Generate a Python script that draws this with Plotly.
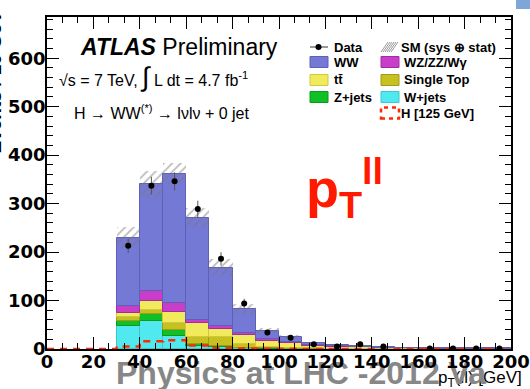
import math
import plotly.graph_objects as go

# ---- histogram content (10 GeV bins) ----
bin_lo = [30, 40, 50, 60, 70, 80, 90, 100, 110, 120, 130, 140, 150, 160, 170, 180, 190]

wjets = [48, 58, 27.5, 7, 4, 2, 1, 0.5, 0.3, 0.2, 0.1, 0.1, 0.1, 0.05, 0.05, 0.05, 0.05]
zjets = [10, 13.4, 11.5, 3, 2, 1, 0.5, 0.5, 0.3, 0.2, 0.2, 0.1, 0.1, 0.05, 0.05, 0.05, 0.05]
single_top = [8.5, 8.6, 14, 14.5, 18, 7, 2.5, 1.5, 0.9, 0.6, 0.5, 0.3, 0.2, 0.1, 0.1, 0.1, 0.1]
ttbar = [7, 19, 22.6, 28.5, 16.5, 19, 13, 9, 5.5, 4, 2.7, 1.5, 1.1, 0.8, 0.6, 0.5, 0.4]
wz_zz_wg = [15.5, 20.6, 18.4, 7, 6.9, 4.6, 4, 2.5, 1, 0.5, 0.5, 0.3, 0.3, 0.2, 0.2, 0.15, 0.1]
ww = [140.5, 220, 268, 211, 120.6, 48.4, 17, 10, 4.5, 2.1, 2.5, 1.2, 1, 0.8, 0.6, 0.5, 0.4]

sm_err = [22, 28, 22, 20, 18, 10, 6, 4, 2, 1.5, 1, 0.8, 0.5, 0.4, 0.3, 0.3, 0.2]

data = [213, 337, 346, 289, 186, 94, 34, 23, 10, 5, 10, 5, None, 1, 1, 1, 1]

# Higgs signal over the full 0-200 range
higgs_edges = [0, 10, 20, 30, 40, 50, 60, 70, 80, 90, 100, 110, 120, 130, 140, 150, 160, 170, 180, 190, 200]
higgs = [0, 0, 0, 5, 16, 18, 7, 2, 1, 0.5, 0.3, 0.2, 0.1, 0.1, 0.1, 0, 0, 0, 0, 0]

# stack order: bottom to top
stack_names = ["W+jets", "Z+jets", "Single Top", "tt̄", "WZ/ZZ/Wγ", "WW"]
stack_values = [wjets, zjets, single_top, ttbar, wz_zz_wg, ww]
stack_colors = ["#4fe9ef", "#10c024", "#c6c021", "#f0ea5c", "#c83ec8", "#7579d6"]
stack_edges = ["#3cc8cc", "#0b9a1a", "#a19c18", "#cfc93f", "#a02ea0", "#5d60b5"]

BIN_W = 10
X_MAX, Y_MAX = 200, 685
centers = [b + BIN_W / 2 for b in bin_lo]

# page geometry in pixels: paper spans x 47..511 and y 17..389,
# the histogram frame spans y 17..349
W, H = 530, 389
L, R, T = 47, 511, 17
FRAME_B = 349


def px(x):
    return (x - L) / (R - L)


def py(y):
    return (H - y) / (H - T)


fig = go.Figure()

# footer strip (subplot x/y over the whole paper) – drawn first so that the
# histogram axes and their tick labels end up on top of it
fig.add_trace(go.Scatter(
    x=[px(438)], y=[py(379)], mode="text", xaxis="x", yaxis="y",
    text=["p<sub>T</sub>(ll) [GeV]"], textposition="middle right",
    textfont=dict(family="Liberation Sans", size=17, color="black"),
    cliponaxis=False, showlegend=False, hoverinfo="skip",
))
fig.add_trace(go.Scatter(
    x=[px(116)], y=[py(376)], mode="text", xaxis="x", yaxis="y",
    text=["Physics at LHC -2012 Va"], textposition="middle right",
    textfont=dict(family="Liberation Sans", size=32,
                  color="#878787", weight="bold"),
    cliponaxis=False, showlegend=False, hoverinfo="skip",
))

# stacked backgrounds
base = [0.0] * len(bin_lo)
for name, vals, col, ecol in zip(stack_names, stack_values, stack_colors, stack_edges):
    fig.add_trace(go.Bar(
        x=centers, y=vals, base=list(base), width=BIN_W, name=name,
        xaxis="x2", yaxis="y2",
        marker=dict(color=col, line=dict(color=ecol, width=1)),
        showlegend=False,
    ))
    base = [b + v for b, v in zip(base, vals)]
total = base

# SM uncertainty band (hatched)
fig.add_trace(go.Bar(
    x=centers, y=[2 * e for e in sm_err], base=[t - e for t, e in zip(total, sm_err)],
    width=BIN_W, xaxis="x2", yaxis="y2",
    marker=dict(color="rgba(0,0,0,0)", line=dict(width=0),
                pattern=dict(shape="/", fgcolor="#777777", bgcolor="rgba(0,0,0,0)",
                             size=6, solidity=0.3)),
    showlegend=False,
))

# Higgs signal, dashed step outline
fig.add_trace(go.Scatter(
    x=higgs_edges, y=higgs + [higgs[-1]], mode="lines", line_shape="hv",
    xaxis="x2", yaxis="y2",
    line=dict(color="#ff2a00", width=2.5, dash="7px,6px"),
    cliponaxis=False, showlegend=False,
))

# data points with Poisson errors
fig.add_trace(go.Scatter(
    x=centers, y=data, mode="markers", xaxis="x2", yaxis="y2",
    marker=dict(color="black", size=6),
    error_y=dict(type="data",
                 array=[math.sqrt(d) if d else 0 for d in data],
                 color="#555555", thickness=1, width=0),
    showlegend=False,
))

annotations = []
shapes = []

# ATLAS label and run conditions
annotations.append(dict(x=px(78), y=py(47), xref="paper", yref="paper",
                        xanchor="left", yanchor="middle", showarrow=False,
                        text="<b><i>ATLAS</i></b> Preliminary",
                        font=dict(family="Liberation Sans", size=23, color="black")))
annotations.append(dict(x=px(57), y=py(77), xref="paper", yref="paper",
                        xanchor="left", yanchor="middle", showarrow=False,
                        text="√s = 7 TeV, <span style='font-size:27px'>∫</span> L dt = 4.7 fb<sup>-1</sup>",
                        font=dict(family="Liberation Sans", size=16, color="black")))
annotations.append(dict(x=px(72), y=py(112), xref="paper", yref="paper",
                        xanchor="left", yanchor="middle", showarrow=False,
                        text="H → WW<sup>(*)</sup> → lνlν + 0 jet",
                        font=dict(family="Liberation Sans", size=16, color="black")))

# variable label
annotations.append(dict(x=px(304), y=py(188), xref="paper", yref="paper",
                        xanchor="left", yanchor="middle", showarrow=False,
                        text="p<sub>T</sub><sup>ll</sup>",
                        font=dict(family="Liberation Sans", size=54, color="#ff1a00",
                                  weight="bold")))

# ---- legend ----
leg_font = dict(family="Liberation Sans", size=13, color="black", weight="bold")
box_h = 5.5


def legend_box(x0, x1, yc, fill, line_col, dash=None, width=1):
    shapes.append(dict(type="rect", xref="paper", yref="paper",
                       x0=px(x0), x1=px(x1), y0=py(yc + box_h), y1=py(yc - box_h),
                       fillcolor=fill,
                       line=dict(color=line_col, width=width, dash=dash)))


def legend_text(x, yc, text):
    annotations.append(dict(x=px(x), y=py(yc), xref="paper", yref="paper",
                            xanchor="left", yanchor="middle", showarrow=False,
                            text=text, font=leg_font))


# column 1
shapes.append(dict(type="line", xref="paper", yref="paper",
                   x0=px(310), x1=px(328), y0=py(47), y1=py(47),
                   line=dict(color="#333333", width=1)))
shapes.append(dict(type="circle", xref="paper", yref="paper",
                   x0=px(315.5), x1=px(321.5), y0=py(50), y1=py(44),
                   fillcolor="black", line=dict(color="black", width=0)))
legend_text(332, 47, "Data")
legend_box(310, 328, 62, stack_colors[5], stack_edges[5])
legend_text(332, 62, "WW")
legend_box(310, 328, 80, stack_colors[3], stack_edges[3])
legend_text(332, 80, "tt̄")
legend_box(310, 328, 97, stack_colors[1], stack_edges[1])
legend_text(332, 97, "Z+jets")

# column 2
for k in range(6):
    xs = 381 + k * 2
    shapes.append(dict(type="line", xref="paper", yref="paper",
                       x0=px(xs), x1=px(xs + 7), y0=py(52), y1=py(42),
                       line=dict(color="#9a9a9a", width=1)))
legend_text(399, 47, "SM (sys ⊕ stat)")
legend_box(381, 399, 62, stack_colors[4], stack_edges[4])
legend_text(402, 62, "WZ/ZZ/Wγ")
legend_box(381, 399, 80, stack_colors[2], stack_edges[2])
legend_text(402, 80, "Single Top")
legend_box(381, 399, 97, stack_colors[0], stack_edges[0])
legend_text(402, 97, "W+jets")
legend_box(381, 399, 113, "rgba(0,0,0,0)", "#ff2a00", dash="4px,4px", width=2.5)
legend_text(399, 113, "H [125 GeV]")

# y-axis title, mostly beyond the left edge
annotations.append(dict(x=px(7), y=py(82), xref="paper", yref="paper",
                        xanchor="right", yanchor="middle", showarrow=False, textangle=-90,
                        text="Events / 10 GeV",
                        font=dict(family="Liberation Sans", size=19, color="black",
                                  weight="bold")))

# small slide element in the top-right corner
shapes.append(dict(type="rect", xref="paper", yref="paper",
                   x0=px(516), x1=px(531), y0=py(9), y1=py(-2),
                   fillcolor="#7fa6d8", line=dict(width=0)))

axis_common = dict(
    showline=True, linecolor="black", linewidth=1.5, mirror="allticks",
    ticks="inside", ticklen=12, tickwidth=1, tickcolor="black",
    showgrid=False, zeroline=False, ticklabelstandoff=-4,
    tickfont=dict(family="DejaVu Sans", size=18, color="black", weight="bold"),
)
hidden = dict(visible=False, showgrid=False, zeroline=False, fixedrange=True)

fig.update_layout(
    width=W, height=H,
    margin=dict(l=L, r=W - R, t=T, b=0, autoexpand=False),
    paper_bgcolor="white", plot_bgcolor="rgba(0,0,0,0)",
    barmode="overlay", bargap=0,
    showlegend=False,
    xaxis=dict(range=[0, 1], domain=[0, 1], anchor="y", **hidden),
    yaxis=dict(range=[0, 1], domain=[0, 1], anchor="x", **hidden),
    xaxis2=dict(range=[0, X_MAX], dtick=20, tick0=0, domain=[0, 1], anchor="y2",
                minor=dict(dtick=20 / 3, ticklen=6, ticks="inside", tickcolor="black"),
                **axis_common),
    yaxis2=dict(range=[0, Y_MAX], dtick=100, tick0=0, domain=[py(FRAME_B), 1], anchor="x2",
                minor=dict(dtick=20, ticklen=6, ticks="inside", tickcolor="black"),
                **axis_common),
    annotations=annotations,
    shapes=shapes,
)

fig.write_html("out.html")
